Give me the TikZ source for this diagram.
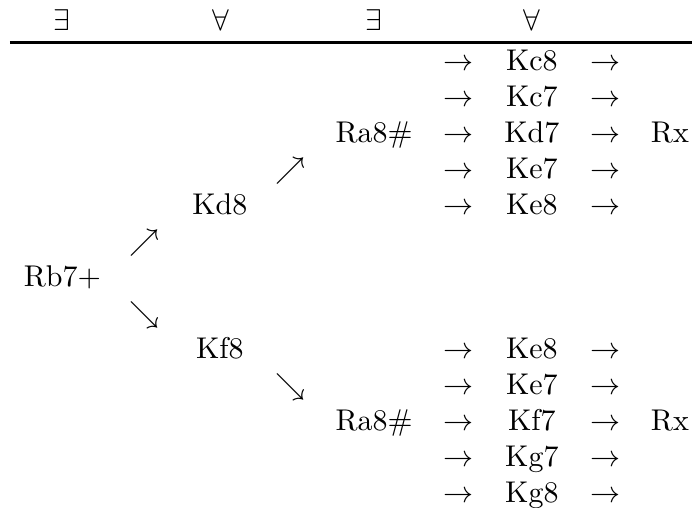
\documentclass[tikz,border=0pt]{standalone}
\usetikzlibrary{positioning}
\tikzset{move/.style={inner sep=0pt, anchor=base},
  quant/.style={move},
  rulebar/.style={line width=0.8pt}}

\begin{document}
\begin{tikzpicture}[x=1pt,y=-1pt]
  \useasboundingbox (0,0) rectangle (230.67,169.33);
  % header
  \node[quant] (q1) at (20.7,10) {$\exists$};
  \node[quant] (q2) at (73.6,10) {$\forall$};
  \node[quant] (q3) at (124.7,10) {$\exists$};
  \node[quant] (q4) at (177.2,10) {$\forall$};
  \coordinate (rulel) at (3.3,14.2);
  \coordinate (ruler) at (230.67,14.2);
  \draw[rulebar] (rulel) -- (ruler);
  % first move and the two king replies
  \node[move] (rb7) at (20.8,{23.5+12*6}) {Rb7$+$};
  \node[move] (ne1) at (48.3,{23.5+12*5}) {$\nearrow$};
  \node[move] (se1) at (48.3,{23.5+12*7}) {$\searrow$};
  \node[move] (kd8) at (73.3,{23.5+12*4}) {Kd8};
  \node[move] (kf8) at (73.3,{23.5+12*8}) {Kf8};
  \node[move] (ne2) at (96.7,{23.5+12*3}) {$\nearrow$};
  \node[move] (se2) at (96.7,{23.5+12*9}) {$\searrow$};
  \node[move] (ra8a) at (124.7,{23.5+12*2}) {Ra8$\#$};
  \node[move] (ra8b) at (124.7,{23.5+12*10}) {Ra8$\#$};
  % king moves after mate
  \foreach \mv [count=\r from 0] in {Kc8,Kc7,Kd7,Ke7,Ke8} {
    \node[move] (upin\r) at (152.7,{23.5+12*\r}) {$\to$};
    \node[move] (up\r) at (177.3,{23.5+12*\r}) {\mv};
    \node[move] (upout\r) at (201.7,{23.5+12*\r}) {$\to$};
  }
  \foreach \mv [count=\r from 8] in {Ke8,Ke7,Kf7,Kg7,Kg8} {
    \node[move] (lowin\r) at (152.7,{23.5+12*\r}) {$\to$};
    \node[move] (low\r) at (177.3,{23.5+12*\r}) {\mv};
    \node[move] (lowout\r) at (201.7,{23.5+12*\r}) {$\to$};
  }
  \node[move] (rxa) at (223.3,{23.5+12*2}) {Rx};
  \node[move] (rxb) at (223.3,{23.5+12*10}) {Rx};
\end{tikzpicture}
\end{document}
